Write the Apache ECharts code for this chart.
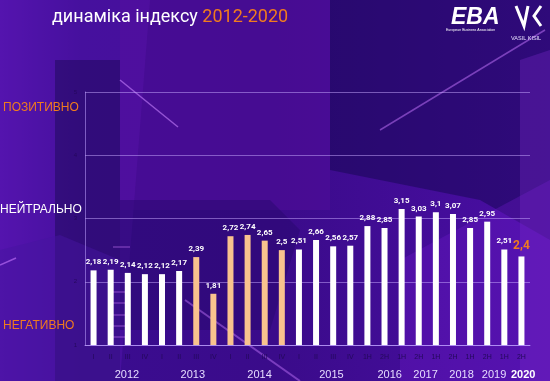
<!DOCTYPE html>
<html><head><meta charset="utf-8">
<script src="https://cdn.jsdelivr.net/npm/echarts@6/dist/echarts.min.js"></script>
<style>html,body{margin:0;padding:0;background:#3a0c8c;}#c{width:550px;height:381px;}</style>
</head><body><div id="c"></div>
<script>
// ---- data ----
const periods = ['I','II','III','IV','I','II','III','IV','I','II','III','IV','I','II','III','IV','1H','2H','1H','2H','1H','2H','1H','2H','1H','2H'];
const values = [2.18,2.19,2.14,2.12,2.12,2.17,2.39,1.81,2.72,2.74,2.65,2.5,2.51,2.66,2.56,2.57,2.88,2.85,3.15,3.03,3.1,3.07,2.85,2.95,2.51,2.4];
const highlighted = [6,7,8,9,10,11]; // orange bars (2013 III – 2014 IV)
const years = ['2012','2013','2014','2015','2016','2017','2018','2019','2020'];
const yTicks = [1,2,3,4,5];
const zoneLabels = ['ПОЗИТИВНО','НЕЙТРАЛЬНО','НЕГАТИВНО'];
const titleText = 'динаміка індексу ';
const titleYears = '2012-2020';

// label placement of the years along the bar axis (in bar units)
const yearPos = [2.45,6.3,10.2,14.4,17.8,19.9,22.0,23.9,25.6];

const WHITE = '#ffffff', PEACH = '#f9c38e', ORANGE = '#f07b1e';
const chart = echarts.init(document.getElementById('c'), null, {renderer:'canvas'});

const barData = values.map((v,i)=>{
  const o = {value:v, itemStyle:{color: highlighted.includes(i)?PEACH:WHITE}};
  if(i===values.length-1){
    o.label = {color:ORANGE, fontSize:12, fontWeight:'bold'};
  }
  return o;
});

const poly = (pts, color) => ({type:'polygon', silent:true, z:-10, shape:{points:pts}, style:{fill:color}});
const deco = (x1,y1,x2,y2,c,w) => ({type:'line', silent:true, z:-5, shape:{x1,y1,x2,y2}, style:{stroke:c,lineWidth:w}});
const ladder = [247,292,303,315,326,337].map(y=>deco(113,y,130,y,'rgba(190,110,240,0.65)',1));

chart.setOption({
  animation:false,
  backgroundColor:{type:'linear',x:0,y:0,x2:1,y2:0,colorStops:[
    {offset:0,color:'#5a14b4'},{offset:0.15,color:'#3a0c90'},{offset:0.5,color:'#3a0b8a'},{offset:1,color:'#4a0ea4'}]},
  graphic:[
    poly([[0,0],[150,0],[120,381],[0,381]], 'rgba(80,20,170,0.55)'),
    poly([[55,60],[120,60],[120,381],[55,381]], 'rgba(25,8,80,0.45)'),
    poly([[120,0],[330,0],[330,210],[120,210]], 'rgba(95,15,160,0.35)'),
    poly([[0,250],[60,235],[120,260],[120,381],[0,381]], 'rgba(70,20,160,0.5)'),
    poly([[330,0],[550,0],[550,240],[480,200],[330,170]], 'rgba(20,6,80,0.5)'),
    poly([[120,200],[270,200],[300,230],[270,330],[120,330]], 'rgba(40,8,110,0.5)'),
    poly([[400,260],[550,180],[550,381],[400,381]], 'rgba(110,25,200,0.35)'),
    poly([[520,60],[550,50],[550,381],[520,381]], 'rgba(120,40,200,0.35)'),
    deco(120,80,178,127,'rgba(200,130,255,0.6)',1.5),
    deco(380,130,545,30,'rgba(200,120,255,0.5)',1.5),
    deco(0,265,16,258,'rgba(200,120,255,0.6)',1.5),
    deco(185,300,300,381,'rgba(200,120,255,0.45)',2),
    ...ladder,
    {type:'text', left:52, top:8, style:{
      text:'{a|'+titleText+'}{b|'+titleYears+'}',
      rich:{a:{fill:'#ffffff',fontSize:18,fontFamily:'Roboto, sans-serif'},b:{fill:ORANGE,fontSize:18,fontFamily:'Roboto, sans-serif'}}}},
    {type:'text', left:3, top:102, style:{text:zoneLabels[0], fill:ORANGE, fontSize:12, fontFamily:'Liberation Sans, Arial, sans-serif'}},
    {type:'text', left:0, top:204, style:{text:zoneLabels[1], fill:'#ffffff', fontSize:12, fontFamily:'Liberation Sans, Arial, sans-serif'}},
    {type:'text', left:3, top:320, style:{text:zoneLabels[2], fill:ORANGE, fontSize:12, fontFamily:'Liberation Sans, Arial, sans-serif'}},
    {type:'text', left:451, top:6, style:{text:'EBA', fill:'#ffffff', fontSize:23, fontWeight:'bold', fontStyle:'italic', fontFamily:'Liberation Sans, Arial, sans-serif'}},
    {type:'text', left:446, top:28, style:{text:'European Business Association', fill:'#ffffff', fontSize:3.5, fontFamily:'Liberation Sans, Arial, sans-serif'}},
    {type:'polyline', silent:true, shape:{points:[[516,6],[524,26],[528,6]]}, style:{stroke:'#ffffff',lineWidth:3,fill:null}},
    {type:'polyline', silent:true, shape:{points:[[541,6],[534,16],[541,26]]}, style:{stroke:'#ffffff',lineWidth:3,fill:null}},
    {type:'text', left:511, top:35, style:{text:'VASIL KISIL', fill:'#e8e0ff', fontSize:5.5, fontFamily:'Liberation Sans, Arial, sans-serif'}}
  ],
  grid:{left:85, right:20, top:92, bottom:36},
  xAxis:[
    {type:'category', data:periods, boundaryGap:true,
      axisLine:{show:true, lineStyle:{color:'rgba(190,160,255,0.7)', width:1}},
      axisTick:{show:false},
      axisLabel:{interval:0, color:'#23095a', fontSize:7, margin:9, fontFamily:'Liberation Sans, Arial, sans-serif'}},
    {type:'value', min:0, max:periods.length, position:'bottom',
      axisLine:{show:false}, axisTick:{show:false}, splitLine:{show:false},
      axisLabel:{customValues:yearPos, margin:24, fontSize:11, color:'#e6dcff', fontFamily:'Liberation Sans, Arial, sans-serif',
        formatter:(v)=>{const k=yearPos.indexOf(v); const y=years[k]; return y===years[years.length-1]?'{b|'+y+'}':y;},
        rich:{b:{fontWeight:'bold',color:'#ffffff',fontSize:11,fontFamily:'Liberation Sans, Arial, sans-serif'}}}}
  ],
  yAxis:{type:'value', min:yTicks[0], max:yTicks[yTicks.length-1], interval:1,
    axisLine:{show:true, lineStyle:{color:'rgba(190,160,255,0.55)'}},
    axisTick:{show:false},
    axisLabel:{color:'#25085e', fontSize:6, margin:8},
    splitLine:{lineStyle:{color:'rgba(200,170,255,0.5)', width:1}}},
  series:[{
    type:'bar', xAxisIndex:0, data:barData, barWidth:6,
    label:{show:true, position:'top', distance:4, color:'#ffffff', fontSize:8, fontWeight:'bold',
      fontFamily:'Roboto, sans-serif',
      formatter:(p)=>String(p.value).replace('.',',')}
  }]
});
</script></body></html>
